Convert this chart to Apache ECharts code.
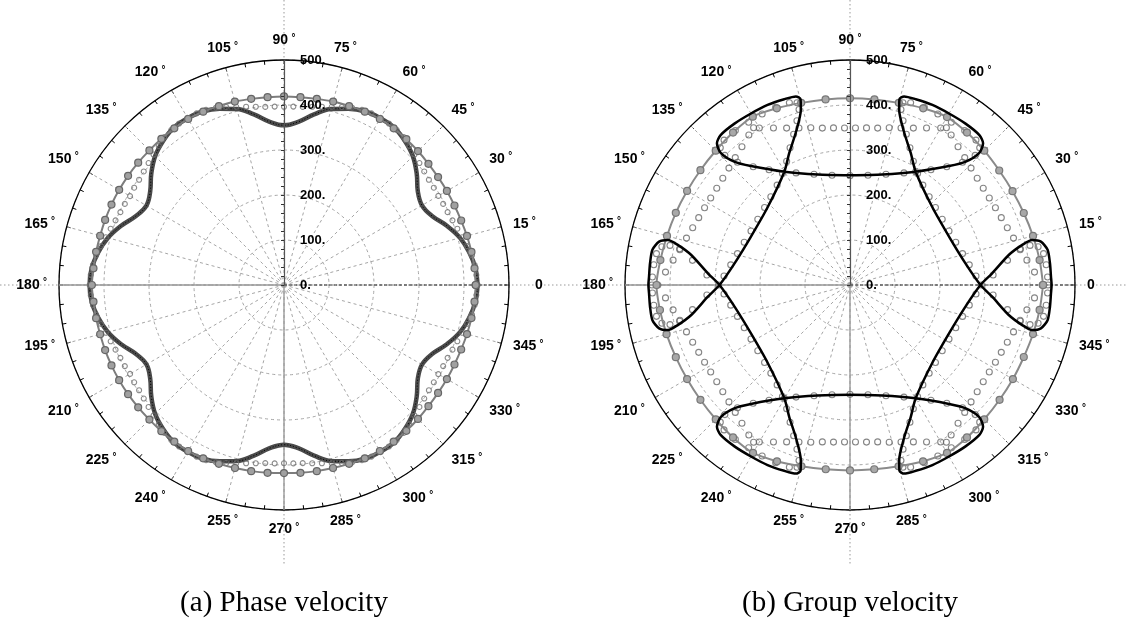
<!DOCTYPE html>
<html><head><meta charset="utf-8">
<script src="https://cdn.jsdelivr.net/npm/echarts/dist/echarts.min.js"></script>
<style>html,body{margin:0;padding:0;background:#fff}#c{width:1126px;height:623px}</style>
</head><body><div id="c"></div>
<script>
// ---------- data (radius in m/s, angle in degrees) ----------
const radiusTicks = [0, 100, 200, 300, 400, 500];
const captions = ['(a) Phase velocity', '(b) Group velocity'];

// (a) phase velocity
const phaseAngle5 = [0,5,10,15,20,25,30,35,40,45,50,55,60,65,70,75,80,85,90,95,100,105,110,115,120,125,130,135,140,145,150,155,160,165,170,175,180,185,190,195,200,205,210,215,220,225,230,235,240,245,250,255,260,265,270,275,280,285,290,295,300,305,310,315,320,325,330,335,340,345,350,355,360];
const phaseDarkR = [430,427,418,405,385,363,354,363,385,405,418,427, 428,426,417,405,385,364,355,364,385,405,417,426, 428,427,418,405,385,363,353,363,385,405,419,429, 432,429,419,405,385,363,353,363,385,405,418,427, 428,426,417,405,385,364,355,364,385,405,417,426, 428,427,418,405,385,363,354,363,385,405,418,427, 430];
const phaseLineR = [426,425,423,421,419,418,418,418,419,421,423,425, 426,425,423,422,420,419,419,419,420,422,423,425, 426,425,424,423,423,423,423,423,423,423,424,425, 427,425,424,423,423,423,423,423,423,423,424,425, 426,425,423,421,420,419,418,419,420,421,423,425, 426,425,423,421,419,418,418,418,419,421,423,425, 426];
const phaseAngle3 = [0,3,6,9,12,15,18,21,24,27,30,33,36,39,42,45,48,51,54,57,60,63,66,69,72,75,78,81,84,87,90,93,96,99,102,105,108,111,114,117,120,123,126,129,132,135,138,141,144,147,150,153,156,159,162,165,168,171,174,177,180,183,186,189,192,195,198,201,204,207,210,213,216,219,222,225,228,231,234,237,240,243,246,249,252,255,258,261,264,267,270,273,276,279,282,285,288,291,294,297,300,303,306,309,312,315,318,321,324,327,330,333,336,339,342,345,348,351,354,357,360];
const phaseDotR = [430,428,426,423,416,410,405,401,398,397,396,397,398,401,405,410,416,423,426,428,
 429,428,426,422,416,410,405,401,398,397,396,397,398,401,405,410,416,422,426,428,
 429,428,426,423,416,410,405,401,398,397,395,397,398,401,405,410,416,423,427,430,
 432,430,427,423,416,410,405,401,398,397,395,397,398,401,405,410,416,423,426,428,
 429,428,426,422,416,410,405,401,398,397,396,397,398,401,405,410,416,422,426,428,
 429,428,426,423,416,410,405,401,398,397,396,397,398,401,405,410,416,423,426,428, 430];

// (b) group velocity : black wavefront traced in order [r, angle]
const groupWave = [[244,90],[256,73.7],[291,59.9],[344,50.2],[376,46.8],[410,45.6],[432,46.8],[440,49.2],[441,54.4],[440,60],[440,65.4],[438,70.5],[436,74],[427,75.1],[404,74.3],[361,70.6],[323,65.3],[291,59.9],[252,43.6],[245,25.9],[261,10.6],[290,0],
[317,355.3],[359,349.3],[393,346.9],[417,346.1],[435,347.2],[446,349.9],[447,353.8],[447,357.6],[448,0],[447,2.4],[447,6.2],[446,10.1],[435,12.8],[417,13.9],[393,13.1],[359,10.7],[317,4.7],[290,0],
[261,349.4],[245,334.1],[252,316.4],[291,300.1],[323,294.7],[361,289.4],[404,285.7],[427,284.9],[436,286],[438,289.5],[440,294.6],[440,300],[441,305.6],[440,310.8],[432,313.2],[410,314.4],[376,313.2],[344,309.8],[291,300.1],[256,286.3],[244,270],
[256,253.7],[291,239.9],[344,230.2],[376,226.8],[410,225.6],[432,226.8],[440,229.2],[441,234.4],[440,240],[440,245.4],[438,250.5],[436,254],[427,255.1],[404,254.3],[361,250.6],[323,245.3],[291,239.9],[252,223.6],[245,205.9],[261,190.6],[290,180],
[317,175.3],[359,169.3],[393,166.9],[417,166.1],[435,167.2],[446,169.9],[447,173.8],[447,177.6],[448,180],[447,182.4],[447,186.2],[446,190.1],[435,192.8],[417,193.9],[393,193.1],[359,190.7],[317,184.7],[290,180],
[261,169.4],[245,154.1],[252,136.4],[291,120.1],[323,114.7],[361,109.4],[404,105.7],[427,104.9],[436,106],[438,109.5],[440,114.6],[440,120],[441,125.6],[440,130.8],[432,133.2],[410,134.4],[376,133.2],[344,129.8],[291,120.1],[256,106.3],[244,90]];

// gray dense circles following the cusped curve
const groupCusp = [[243,90],[247.3,80.7],[258.7,72],[276.4,64.3],[291.2,59.9],[312.9,54.9],[339.7,50.7],[370.2,47.5],[400.3,46],[419.5,46.6],[426.7,49],[427.4,53.4],[426.2,58.1],[427.1,62.8],[428.1,67.3],[426.9,71.6],[421.8,73.8],[406,73.8],[383.6,72.1],[357.6,69.5],[332.7,66.4],[309,62.9],[289.8,58.8],[274.8,53.9],[263.4,48.1],[256.3,42.2],[251.7,35.5],[250.6,28.6],[253.5,22],[259.6,15.6],[268.8,9.6],[280.7,4.1],[292,0],
[318.8,356],[354.3,351.1],[386,348.3],[409.6,347.6],[426.6,348.5],[435.7,350.8],[438.3,354.1],[439.4,357.7],[440,0],[439.4,2.3],[438.3,5.9],[435.7,9.2],[426.6,11.5],[409.6,12.4],[386,11.7],[354.3,8.9],[318.8,4],
[280.7,355.9],[268.8,350.4],[259.6,344.4],[253.5,338],[250.6,331.4],[251.7,324.5],[256.3,317.8],[263.4,311.9],[274.8,306.1],[289.8,301.2],[309,297.1],[332.7,293.6],[357.6,290.5],[383.6,287.9],[406,286.2],[421.8,286.2],[426.9,288.4],[428.1,292.7],[427.1,297.2],[426.2,301.9],[427.4,306.6],[426.7,311],[419.5,313.4],[400.3,314],[370.2,312.5],[339.7,309.3],[312.9,305.1],[276.4,295.7],[258.7,288],[247.3,279.3],[243,270],
[247.3,260.7],[258.7,252],[276.4,244.3],[291.2,239.9],[312.9,234.9],[339.7,230.7],[370.2,227.5],[400.3,226],[419.5,226.6],[426.7,229],[427.4,233.4],[426.2,238.1],[427.1,242.8],[428.1,247.3],[426.9,251.6],[421.8,253.8],[406,253.8],[383.6,252.1],[357.6,249.5],[332.7,246.4],[309,242.9],[289.8,238.8],[274.8,233.9],[263.4,228.1],[256.3,222.2],[251.7,215.5],[250.6,208.6],[253.5,202],[259.6,195.6],[268.8,189.6],[280.7,184.1],[292,180],
[318.8,176],[354.3,171.1],[386,168.3],[409.6,167.6],[426.6,168.5],[435.7,170.8],[438.3,174.1],[439.4,177.7],[440,180],[439.4,182.3],[438.3,185.9],[435.7,189.2],[426.6,191.5],[409.6,192.4],[386,191.7],[354.3,188.9],[318.8,184],
[280.7,175.9],[268.8,170.4],[259.6,164.4],[253.5,158],[250.6,151.4],[251.7,144.5],[256.3,137.8],[263.4,131.9],[274.8,126.1],[289.8,121.2],[309,117.1],[332.7,113.6],[357.6,110.5],[383.6,107.9],[406,106.2],[421.8,106.2],[426.9,108.4],[428.1,112.7],[427.1,117.2],[426.2,121.9],[427.4,126.6],[426.7,131],[419.5,133.4],[400.3,134],[370.2,132.5],[339.7,129.3],[312.9,125.1],[276.4,115.7],[258.7,108],[247.3,99.3]];

// gray dense circles on the inner hexagon-like path
const groupHex = [[427,0],[411,4],[397,8],[387,12],[378,16],[372,20],[368,24],[366,28],[365,32],[366,36],[369,40],[374,44],[381,48],[390,52],[402,56],[410,58.5],
[403,60],[388,64],[376,68],[367,72],[360,76],[354,80],[351,84],[349,88],[349,92],[351,96],[354,100],[360,104],[367,108],[376,112],[388,116],[403,120],[410,121.5],
[402,124],[390,128],[381,132],[374,136],[369,140],[366,144],[365,148],[366,152],[368,156],[372,160],[378,164],[387,168],[397,172],[411,176],[427,180],
[411,184],[397,188],[387,192],[378,196],[372,200],[368,204],[366,208],[365,212],[366,216],[369,220],[374,224],[381,228],[390,232],[402,236],[410,238.5],
[403,240],[388,244],[376,248],[367,252],[360,256],[354,260],[351,264],[349,268],[349,272],[351,276],[354,280],[360,284],[367,288],[376,292],[388,296],[403,300],[410,301.5],
[402,304],[390,308],[381,312],[374,316],[369,320],[366,324],[365,328],[366,332],[368,336],[372,340],[378,344],[387,348],[397,352],[411,356]];

// gray line with markers
const groupLineAngle = [0,7.5,15,22.5,30,37.5,45,52.5,60,67.5,75,82.5,90,97.5,105,112.5,120,127.5,135,142.5,150,157.5,165,172.5,180,187.5,195,202.5,210,217.5,225,232.5,240,247.5,255,262.5,270,277.5,285,292.5,300,307.5,315,322.5,330,337.5,345,352.5,360];
const groupLineR = [429,425,421,418,417,418,422,427,431,425,419,416,415,416,419,425,432,427,422,419,418,419,421,425,430,426,422,419,418,419,422,427,431,424,417,413,412,413,417,424,431,427,422,419,418,418,421,425,429];

// ---------- chart ----------
const CL = [284, 285], CR = [850, 285], R = 225;
const chart = echarts.init(document.getElementById('c'));
const FONT = 'Liberation Sans';
const zip = (angles, radii) => angles.map((a, i) => [radii[i], a]);

function angleAxis(pi, zeroPad) {
  return {
    polarIndex: pi, type: 'value', min: 0, max: 360, interval: 15, startAngle: 0, clockwise: false,
    axisLine: { lineStyle: { color: '#000', width: 1.3 } },
    axisTick: { show: true, inside: true, length: 4, lineStyle: { color: '#000', width: 1 } },
    minorTick: { show: true, splitNumber: 3, length: 4, lineStyle: { color: '#000', width: 1 } },
    splitLine: { show: true, lineStyle: { color: '#a6a6a6', width: 1, type: [3, 3] } },
    axisLabel: {
      margin: 12, color: '#000',
      formatter: v => v === 360 ? '' : (v === 0 ? '{z|0}' : '{n|' + v + '} {d|°}'),
      rich: { n: { fontFamily: FONT, fontWeight: 'bold', fontSize: 14, color: '#000' },
              z: { fontFamily: FONT, fontWeight: 'bold', fontSize: 14, color: '#000', padding: [0, 0, 0, zeroPad] },
              d: { fontFamily: FONT, fontWeight: 'bold', fontSize: 10, color: '#000', padding: [0, 0, 5, 0] } }
    }
  };
}
function hiddenAngle(pi) {
  return { polarIndex: pi, type: 'value', min: 0, max: 360, startAngle: 90, clockwise: false, show: false,
    axisLine: { show: false }, axisTick: { show: false }, axisLabel: { show: false }, splitLine: { show: false } };
}
function gridRadius(pi) {
  return { polarIndex: pi, type: 'value', min: 0, max: 500, interval: 100,
    axisLine: { show: false }, axisTick: { show: false }, axisLabel: { show: false },
    splitLine: { show: true, lineStyle: { color: '#a6a6a6', width: 1, type: [3, 3] } } };
}
function labelRadius(pi) {
  return { polarIndex: pi, type: 'value', min: 0, max: 500, interval: 100, z: 5,
    axisLine: { show: true, lineStyle: { color: '#555', width: 1.2 } },
    axisTick: { show: true, length: 3, lineStyle: { color: '#333' } },
    minorTick: { show: true, splitNumber: 5, length: 3, lineStyle: { color: '#333' } },
    splitLine: { show: false },
    axisLabel: { margin: -16, align: 'left', color: '#000', fontFamily: FONT, fontWeight: 'bold', fontSize: 13, formatter: v => v + '.' } };
}
function decor(c) {
  const dot = { stroke: '#999', lineWidth: 1, lineDash: [1.5, 2.5] };
  return [
    { type: 'line', z: -1, shape: { x1: c[0], y1: 0, x2: c[0], y2: c[1] - R }, style: dot },
    { type: 'line', z: -1, shape: { x1: c[0], y1: c[1] + R, x2: c[0], y2: 566 }, style: dot },
    { type: 'line', z: 1, shape: { x1: c[0] - R, y1: c[1], x2: c[0], y2: c[1] }, style: { stroke: '#9a9a9a', lineWidth: 1.4 } },
    { type: 'line', z: 1, shape: { x1: c[0], y1: c[1], x2: c[0], y2: c[1] + R }, style: { stroke: '#9a9a9a', lineWidth: 1.4 } },
    { type: 'line', z: 1, shape: { x1: c[0], y1: c[1], x2: c[0] + R, y2: c[1] }, style: { stroke: '#333', lineWidth: 1.2, lineDash: [3, 2] } }
  ];
}

const openCircle = (pi, data, color, size) => ({
  type: 'scatter', coordinateSystem: 'polar', polarIndex: pi, data, symbol: 'circle', symbolSize: size,
  itemStyle: { color: 'rgba(255,255,255,0)', borderColor: color, borderWidth: 1.1 }, z: 3, silent: true
});

chart.setOption({
  animation: false,
  backgroundColor: '#fff',
  polar: [{ center: CL, radius: R }, { center: CL, radius: R }, { center: CR, radius: R }, { center: CR, radius: R }],
  angleAxis: [angleAxis(0, 14), hiddenAngle(1), angleAxis(2, 0), hiddenAngle(3)],
  radiusAxis: [gridRadius(0), labelRadius(1), gridRadius(2), labelRadius(3)],
  graphic: [
    { type: 'line', z: -2, shape: { x1: 0, y1: 285, x2: 1126, y2: 285 }, style: { stroke: '#999', lineWidth: 1, lineDash: [1.5, 2.5] } },
    ...decor(CL), ...decor(CR),
    { type: 'text', x: CL[0], y: 603, style: { text: captions[0], font: '29px "Liberation Serif"', fill: '#000', textAlign: 'center', textVerticalAlign: 'middle' } },
    { type: 'text', x: CR[0], y: 603, style: { text: captions[1], font: '29px "Liberation Serif"', fill: '#000', textAlign: 'center', textVerticalAlign: 'middle' } }
  ],
  series: [
    { type: 'line', coordinateSystem: 'polar', polarIndex: 0, data: zip(phaseAngle5, phaseDarkR), smooth: 0.4,
      symbol: 'none', lineStyle: { color: '#4a4a4a', width: 4.5 }, z: 2 },
    { type: 'line', coordinateSystem: 'polar', polarIndex: 0, data: zip(phaseAngle5, phaseDarkR), smooth: 0.4,
      symbol: 'none', lineStyle: { color: '#000', width: 1, type: [1, 2] }, z: 2 },
    openCircle(0, zip(phaseAngle3, phaseDotR), '#6e6e6e', 5),
    { type: 'line', coordinateSystem: 'polar', polarIndex: 0, data: zip(phaseAngle5, phaseLineR), smooth: 0.3,
      symbol: 'circle', symbolSize: 7, lineStyle: { color: '#7d7d7d', width: 2 },
      itemStyle: { color: '#a0a0a0', borderColor: '#666', borderWidth: 1.2 }, z: 4 },

    openCircle(2, groupHex, '#666', 6),
    openCircle(2, groupCusp, '#666', 6),
    { type: 'line', coordinateSystem: 'polar', polarIndex: 2, data: zip(groupLineAngle, groupLineR), smooth: 0.3,
      symbol: 'circle', symbolSize: 7, lineStyle: { color: '#8a8a8a', width: 2 },
      itemStyle: { color: '#a8a8a8', borderColor: '#777', borderWidth: 1.2 }, z: 4 },
    { type: 'line', coordinateSystem: 'polar', polarIndex: 2, data: groupWave, smooth: 0.25,
      symbol: 'none', lineStyle: { color: '#000', width: 2.5 }, z: 5 }
  ]
});
</script></body></html>
